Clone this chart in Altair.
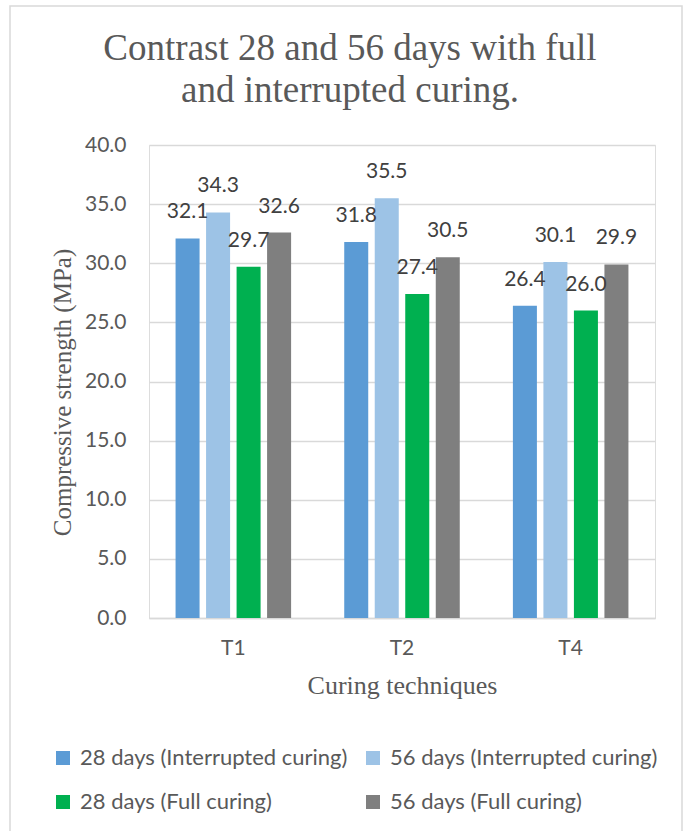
import altair as alt
import pandas as pd

techniques = ["T1", "T2", "T4"]
series = [
    "28 days (Interrupted curing)",
    "56 days (Interrupted curing)",
    "28 days (Full curing)",
    "56 days (Full curing)",
]
colors = ["#5b9bd5", "#9dc3e6", "#00b050", "#7f7f7f"]
v28_interrupted = [32.1, 31.8, 26.4]
v56_interrupted = [34.3, 35.5, 30.1]
v28_full = [29.7, 27.4, 26.0]
v56_full = [32.6, 30.5, 29.9]
y_ticks = [0, 5, 10, 15, 20, 25, 30, 35, 40]

rows = []
for s, vals in zip(series, [v28_interrupted, v56_interrupted, v28_full, v56_full]):
    for t, v in zip(techniques, vals):
        rows.append({"technique": t, "series": s, "value": v})
df = pd.DataFrame(rows)

GRAY = "#595959"
SERIF = "Liberation Serif"
SANS = "Lato"

x_enc = alt.X(
    "technique:N",
    sort=techniques,
    scale=alt.Scale(paddingInner=0.315, paddingOuter=0.1575),
    axis=alt.Axis(
        title="Curing techniques",
        labelAngle=0,
        labelFont=SANS,
        labelFontSize=21,
        labelColor=GRAY,
        labelPadding=19,
        ticks=False,
        domainColor="#d9d9d9",
        domainWidth=1.3,
        titleFont=SERIF,
        titleFontSize=26,
        titleFontWeight="normal",
        titleColor=GRAY,
        titlePadding=14,
    ),
)
xoff_enc = alt.XOffset("series:N", sort=series, scale=alt.Scale(paddingInner=0.213))
y_enc = alt.Y(
    "value:Q",
    scale=alt.Scale(domain=[0, 40]),
    axis=alt.Axis(
        title="Compressive strength (MPa)",
        values=y_ticks,
        format=".1f",
        labelFont=SANS,
        labelFontSize=21,
        labelColor=GRAY,
        labelPadding=23,
        ticks=False,
        domain=False,
        gridColor="#d9d9d9",
        gridWidth=1.3,
        titleFont=SERIF,
        titleFontSize=25,
        titleFontWeight="normal",
        titleColor=GRAY,
        titleX=-87,
        titleY=247,
        titleBaseline="middle",
        titleAlign="center",
    ),
)

bars = alt.Chart(df).mark_bar().encode(
    x=x_enc,
    xOffset=xoff_enc,
    y=y_enc,
    color=alt.Color(
        "series:N",
        sort=series,
        scale=alt.Scale(domain=series, range=colors),
        legend=alt.Legend(
            orient="none",
            direction="horizontal",
            legendX=-97,
            legendY=602,
            padding=0,
            columns=2,
            title=None,
            symbolType="square",
            symbolSize=196,
            symbolStrokeWidth=0,
            labelFont=SANS,
            labelFontSize=22,
            labelColor=GRAY,
            labelOffset=6,
            labelLimit=400,
            columnPadding=14,
            rowPadding=22,
        ),
    ),
)

labels = alt.Chart(df).mark_text(
    baseline="bottom", dy=-16, font=SANS, fontSize=21, color="#404040"
).encode(
    x=alt.X("technique:N", sort=techniques),
    xOffset=alt.XOffset("series:N", sort=series),
    y="value:Q",
    text=alt.Text("value:Q", format=".1f"),
)

frame = alt.Chart(pd.DataFrame({"k": [0]})).mark_rect(
    fill=None, stroke="#d9d9d9", strokeWidth=1.5
).encode(
    x=alt.value(-139), x2=alt.value(533), y=alt.value(-139), y2=alt.value(700)
)

chart = alt.layer(frame, bars, labels).properties(
    width=506,
    height=473,
    padding={"left": 149, "top": 145, "right": 34, "bottom": 213},
    autosize=alt.AutoSizeParams(type="none"),
    title=alt.Title(
        ["Contrast 28 and 56 days with full", "and interrupted curing."],
        font=SERIF,
        fontSize=37,
        fontWeight="normal",
        color=GRAY,
        anchor="middle",
        frame="group",
        dx=-52,
        offset=-134,
        baseline="alphabetic",
        lineHeight=42,
    ),
).configure_view(stroke=None).configure(background="white")

chart.save("out.html", embed_options={"renderer": "svg", "actions": False})
